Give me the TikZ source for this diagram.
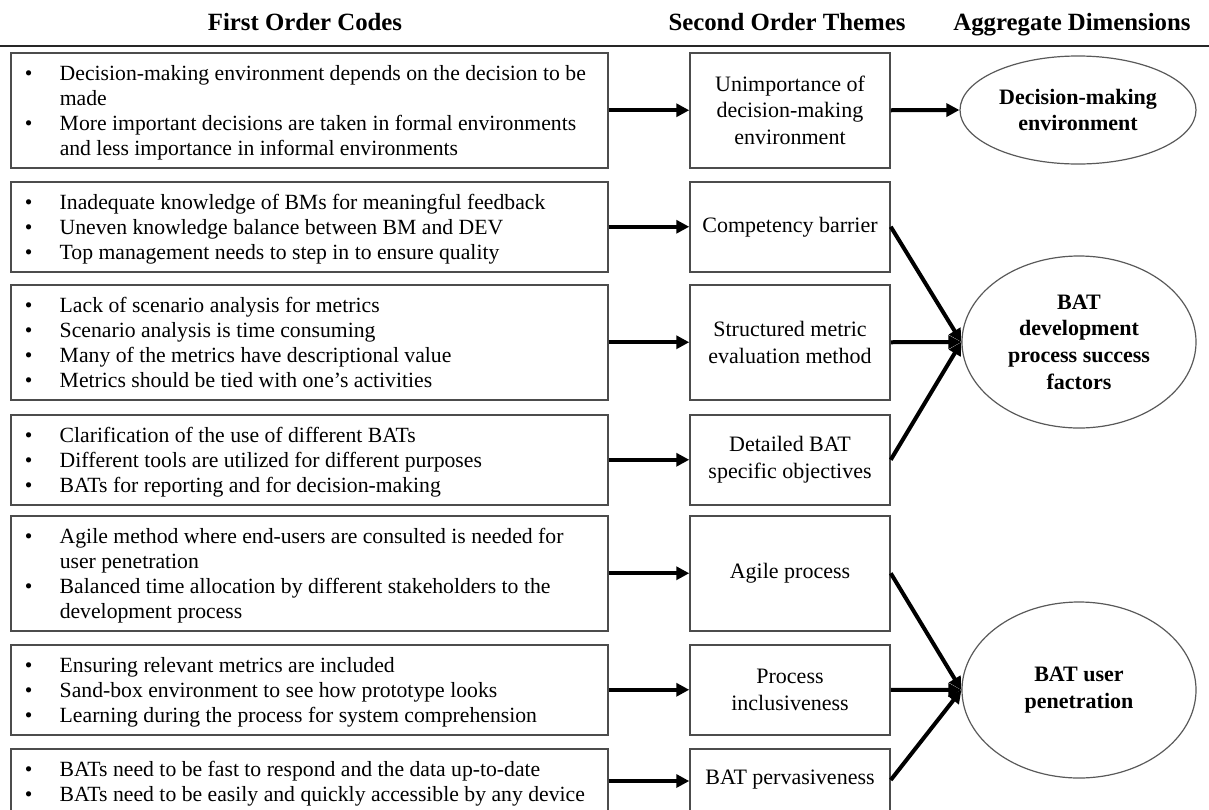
\documentclass[tikz,border=0pt]{standalone}
\usepackage{fontspec}
\setmainfont{Liberation Serif}
\usetikzlibrary{arrows.meta,shapes.geometric}

% bullet marker and continuation indent for the code lists
\newcommand{\bl}{\makebox[17.5pt][l]{\textbullet}}
\newcommand{\cont}{\hspace*{17.5pt}}
\newcommand{\codelist}[1]{\makebox[284.5pt][l]{\raisebox{-1.25pt}[\height][\depth]{\begin{tabular}{@{}l@{}}#1\end{tabular}}}}

\tikzset{
  codebox/.style={draw=black!70, line width=0.75pt, anchor=north west,
    inner xsep=7pt, inner ysep=3.75pt, font=\fontsize{10.85}{12.5}\selectfont},
  themebox/.style={draw=black!70, line width=0.75pt, minimum width=100pt,
    inner sep=0pt, align=center, font=\fontsize{11}{13.3}\selectfont},
  themetext/.style={inner sep=0pt, font=\fontsize{11}{13.3}\selectfont},
  dimension/.style={ellipse, draw=black!65, line width=0.6pt, inner sep=0pt,
    align=center, font=\bfseries\fontsize{11}{13.3}\selectfont},
  heading/.style={anchor=base, font=\bfseries\fontsize{12.4}{14}\selectfont},
  flow/.style={line width=2pt, -{Triangle[length=6.5pt,width=6.5pt]}},
}

\begin{document}
\begin{tikzpicture}[x=0.5pt,y=-0.5pt]
\useasboundingbox (0,0) rectangle (1209,809);
\clip (0,0) rectangle (1209,809);

% column headings (on a common baseline) and rule
\node[heading] (H1) at (305,30) {First Order Codes};
\node[heading] (H2) at (787,30) {Second Order Themes};
\node[heading] (H3) at (1072,30) {Aggregate Dimensions};
\coordinate (ruleL) at (0,46);
\coordinate (ruleR) at (1209,46);
\draw[line width=1.3pt, black!85] (ruleL) -- (ruleR);

% first order codes
\node[codebox] (L1) at (10,52) {\codelist{%
  \bl Decision-making environment depends on the decision to be\\
  \cont made\\
  \bl More important decisions are taken in formal environments\\
  \cont and less importance in informal environments}};
\node[codebox] (L2) at (10,181) {\codelist{%
  \bl Inadequate knowledge of BMs for meaningful feedback\\
  \bl Uneven knowledge balance between BM and DEV\\
  \bl Top management needs to step in to ensure quality}};
\node[codebox] (L3) at (10,284) {\codelist{%
  \bl Lack of scenario analysis for metrics\\
  \bl Scenario analysis is time consuming\\
  \bl Many of the metrics have descriptional value\\
  \bl Metrics should be tied with one’s activities}};
\node[codebox] (L4) at (10,414) {\codelist{%
  \bl Clarification of the use of different BATs\\
  \bl Different tools are utilized for different purposes\\
  \bl BATs for reporting and for decision-making}};
\node[codebox] (L5) at (10,515) {\codelist{%
  \bl Agile method where end-users are consulted is needed for\\
  \cont user penetration\\
  \bl Balanced time allocation by different stakeholders to the\\
  \cont development process}};
\node[codebox] (L6) at (10,644) {\codelist{%
  \bl Ensuring relevant metrics are included\\
  \bl Sand-box environment to see how prototype looks\\
  \bl Learning during the process for system comprehension}};
\node[codebox] (L7) at (10,748) {\codelist{%
  \bl BATs need to be fast to respond and the data up-to-date\\
  \bl BATs need to be easily and quickly accessible by any device\\
  \mbox{}}};

% second order themes
\coordinate (mx) at (790,0);
\node[themebox, minimum height=57.5pt] (M1) at (L1.center -| mx) {Unimportance of\\decision-making\\environment};
\node[themebox, minimum height=45pt] (M2) at (L2.center -| mx) {Competency barrier};
\node[themebox, minimum height=57.5pt] (M3) at (L3.center -| mx) {Structured metric\\evaluation method};
\node[themebox, minimum height=45pt] (M4) at (L4.center -| mx) {Detailed BAT\\specific objectives};
\node[themebox, minimum height=57.5pt] (M5) at (L5.center -| mx) {Agile process};
\node[themebox, minimum height=45pt] (M6) at (L6.center -| mx) {Process\\inclusiveness};
\node[themebox, minimum height=45pt, anchor=north] (M7) at (L7.north -| mx) {};
\node[themetext] (M7t) at ([yshift=-16pt]M7.north) {BAT pervasiveness};

% aggregate dimensions
\node[dimension, minimum width=118pt, minimum height=54pt] (E1) at (1078,110) {Decision-making\\environment};
\node[dimension, minimum width=117pt, minimum height=86pt] (E2) at (1079,342) {BAT\\development\\process success\\factors};
\node[dimension, minimum width=117pt, minimum height=88pt] (E3) at (1079,690) {BAT user\\penetration};

% codes to themes
\draw[flow] (L1.east) -- (M1.west);
\draw[flow] (L2.east) -- (M2.west);
\draw[flow] (L3.east) -- (M3.west);
\draw[flow] (L4.east) -- (M4.west);
\draw[flow] (L5.east) -- (M5.west);
\draw[flow] (L6.east) -- (M6.west);
\draw[flow] ([yshift=-16.5pt]L7.north east) -- ([yshift=-16.5pt]L7.north east -| M7.west);

% themes to dimensions
\draw[flow] (M1.east) -- (E1.west);
\draw[flow] (M2.east) -- (E2.west);
\draw[flow] (M3.east) -- (E2.west);
\draw[flow] (M4.east) -- (E2.west);
\draw[flow] (M5.east) -- (E3.west);
\draw[flow] (M6.east) -- (E3.west);
\draw[flow] (M7t.east -| M7.east) -- (E3.west);
\end{tikzpicture}
\end{document}
